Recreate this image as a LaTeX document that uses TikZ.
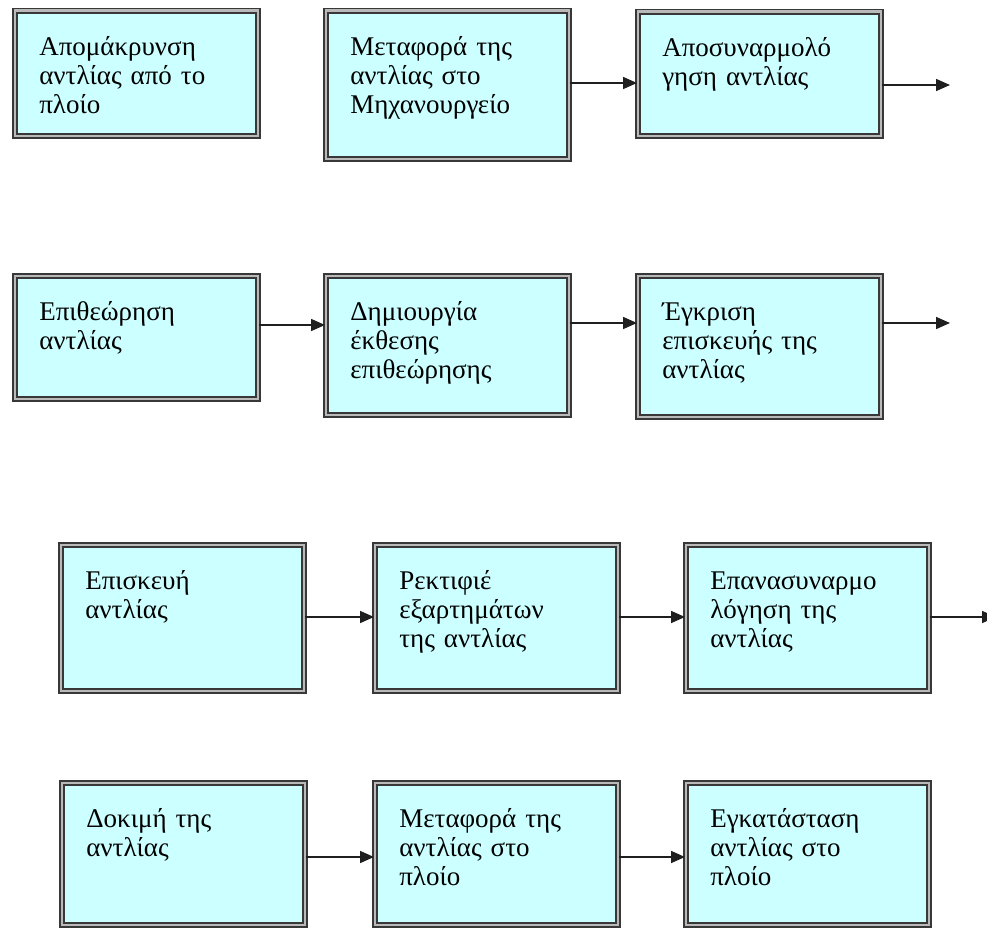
\documentclass[tikz,border=0pt]{standalone}
\usepackage{fontspec}
\setmainfont{Liberation Serif}
\usetikzlibrary{arrows.meta}
\usetikzlibrary{calc}
\usepackage{xcolor}
\definecolor{boxcyan}{RGB}{204,255,255}

\begin{document}
\begin{tikzpicture}[x=1pt, y=-1pt,
  procbox/.style={rectangle, anchor=north west, draw=black!78, line width=1.6pt,
    double=gray!55, double distance=2.6pt, fill=boxcyan, text width=194pt,
    align=left, inner xsep=24.5pt, inner ysep=18pt, text height=27pt,
    font=\fontsize{27}{29}\selectfont},
  flow/.style={draw=black!88, line width=1.6pt, -{Triangle[length=14pt,width=12pt]}}]
\useasboundingbox (0,0) rectangle (987,931);
% first row
\node[procbox, text depth=62pt] (remove) at (14,10) {Απομάκρυνση\\αντλίας από το\\πλοίο};
\node[procbox, text depth=85pt] (toshop) at (325,10) {Μεταφορά της\\αντλίας στο\\Μηχανουργείο};
\node[procbox, text depth=61pt] (disasm) at (637,11) {Αποσυναρμολό\\γηση αντλίας};
% second row
\node[procbox, text depth=60pt] (inspect) at (14,275) {Επιθεώρηση\\αντλίας};
\node[procbox, text depth=76pt] (report) at (325,275) {Δημιουργία\\έκθεσης\\επιθεώρησης};
\node[procbox, text depth=78pt] (approve) at (637,275) {Έγκριση\\επισκευής της\\αντλίας};
% third row
\node[procbox, text depth=83pt] (repair) at (60,544) {Επισκευή\\αντλίας};
\node[procbox, text depth=83pt] (rectify) at (374,544) {Ρεκτιφιέ\\εξαρτημάτων\\της αντλίας};
\node[procbox, text depth=83pt] (reasm) at (685,544) {Επανασυναρμο\\λόγηση της\\αντλίας};
% fourth row
\node[procbox, text depth=79pt] (test) at (61,782) {Δοκιμή της\\αντλίας};
\node[procbox, text depth=79pt] (toship) at (374,782) {Μεταφορά της\\αντλίας στο\\πλοίο};
\node[procbox, text depth=79pt] (install) at (685,782) {Εγκατάσταση\\αντλίας στο\\πλοίο};

\coordinate (out1) at (950,85);
\coordinate (out2) at (950,323);
\coordinate (out3) at (996,617);

\foreach \a/\b/\y in {toshop/disasm/83, inspect/report/325, report/approve/323,
  repair/rectify/617, rectify/reasm/617, test/toship/857, toship/install/857}
  \draw[flow] (\a.east |- 0,\y) -- (\b.west |- 0,\y);
\draw[flow] (disasm.east |- out1) -- (out1);
\draw[flow] (approve.east |- out2) -- (out2);
\draw[flow] (reasm.east |- out3) -- (out3);
\end{tikzpicture}
\end{document}
